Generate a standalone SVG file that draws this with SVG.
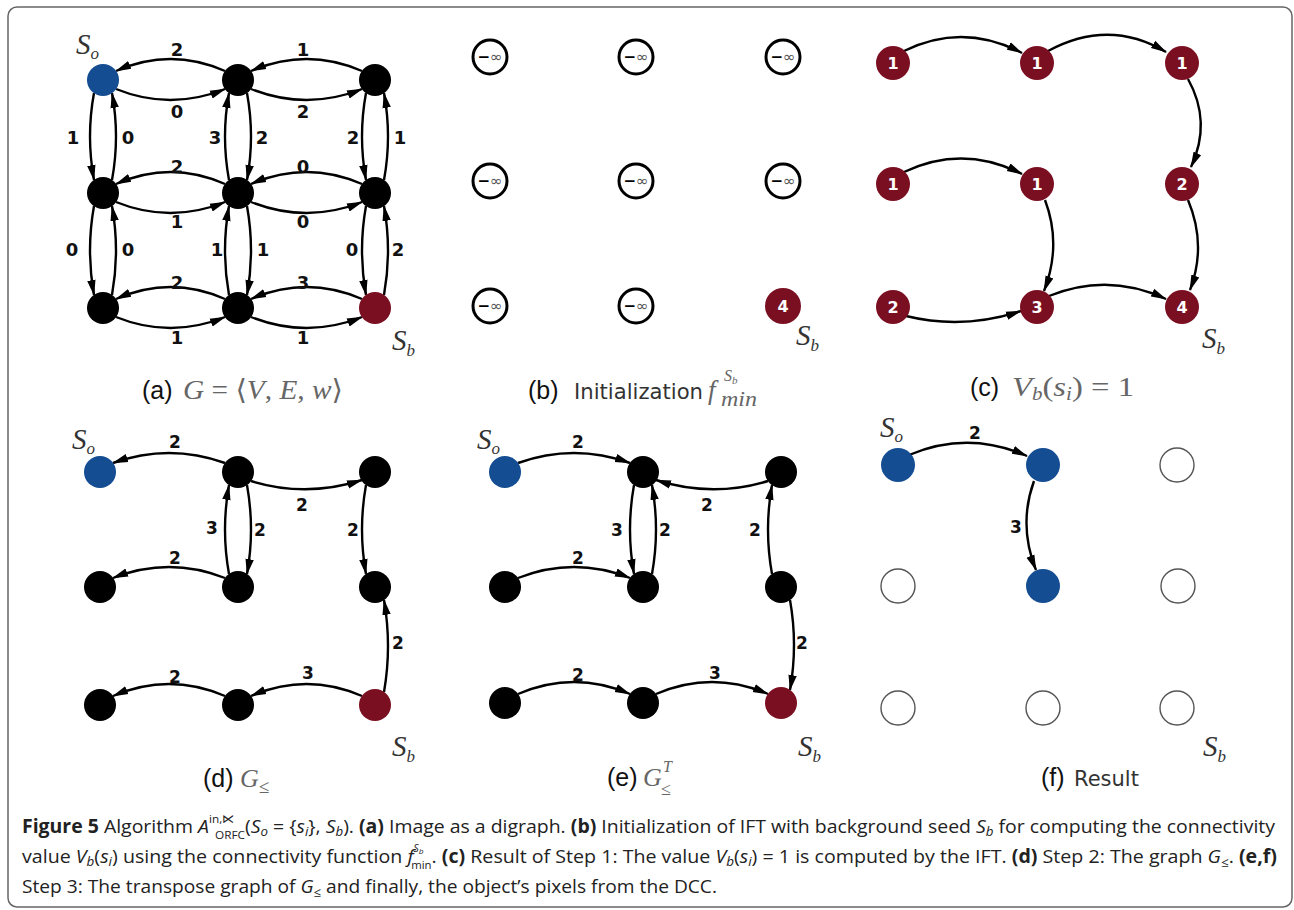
<svg xmlns="http://www.w3.org/2000/svg" width="1294" height="910" viewBox="0 0 1294 910">
<style>
.e{fill:none;stroke:#000;stroke-width:2.4;marker-end:url(#ah)}
.lb{font-family:"DejaVu Sans","Liberation Sans",sans-serif;font-weight:bold;font-size:18px;text-anchor:middle;fill:#111}
.lbs{font-family:"DejaVu Sans","Liberation Sans",sans-serif;font-weight:bold;font-size:17px;text-anchor:middle;fill:#111}
.blk{fill:#000}
.blu{fill:#144d92}
.red{fill:#7b0f22}
.inf{fill:#fff;stroke:#000;stroke-width:3}
.emp{fill:#fff;stroke:#555;stroke-width:1.4}
.num{font-family:"DejaVu Sans",sans-serif;font-weight:bold;font-size:16px;fill:#fff;text-anchor:middle}
.it{font-family:"Liberation Serif","DejaVu Serif",serif;font-style:italic;fill:#333}
.cap{font-family:"Liberation Sans",Arial,sans-serif;font-size:25px;fill:#111}
.mth{font-family:"Liberation Serif","DejaVu Serif",serif;fill:#666}
.sf{font-family:"DejaVu Sans",sans-serif;font-size:21px;fill:#333}
.fc{font-family:"Open Sans","Noto Sans",sans-serif;font-size:19px;fill:#222}
</style>
<defs>
<marker id="ah" viewBox="0 0 16 10" refX="15" refY="5" markerWidth="16" markerHeight="10" markerUnits="userSpaceOnUse" orient="auto"><path d="M0,0.8 L16,5 L0,9.2 z" fill="#000"/></marker>
</defs>
<rect x="8" y="7" width="1284" height="900" rx="9" fill="#fff" stroke="#666" stroke-width="1.5"/>

<g id="connectors">
<path class="e" d="M225,71 Q170.5,47 116,71"/>
<path class="e" d="M116,89 Q170.5,111 225,89"/>
<path class="e" d="M362,71 Q306.5,47 251,71"/>
<path class="e" d="M251,89 Q306.5,111 362,89"/>
<path class="e" d="M225,184 Q170.5,160 116,184"/>
<path class="e" d="M116,202 Q170.5,224 225,202"/>
<path class="e" d="M362,184 Q306.5,160 251,184"/>
<path class="e" d="M251,202 Q306.5,224 362,202"/>
<path class="e" d="M225,299 Q170.5,275 116,299"/>
<path class="e" d="M116,317 Q170.5,339 225,317"/>
<path class="e" d="M362,299 Q306.5,275 251,299"/>
<path class="e" d="M251,317 Q306.5,339 362,317"/>
<path class="e" d="M94,93 Q86,136.5 94,180"/>
<path class="e" d="M112,180 Q120,136.5 112,93"/>
<path class="e" d="M94,206 Q86,250.5 94,295"/>
<path class="e" d="M112,295 Q120,250.5 112,206"/>
<path class="e" d="M229,180 Q221,136.5 229,93"/>
<path class="e" d="M247,93 Q255,136.5 247,180"/>
<path class="e" d="M229,295 Q221,250.5 229,206"/>
<path class="e" d="M247,206 Q255,250.5 247,295"/>
<path class="e" d="M366,93 Q358,136.5 366,180"/>
<path class="e" d="M384,180 Q392,136.5 384,93"/>
<path class="e" d="M366,206 Q358,250.5 366,295"/>
<path class="e" d="M384,295 Q392,250.5 384,206"/>
<text class="lb" x="177" y="56">2</text>
<text class="lb" x="177" y="118">0</text>
<text class="lb" x="303" y="56">1</text>
<text class="lb" x="303" y="118">2</text>
<text class="lb" x="177" y="173">2</text>
<text class="lb" x="177" y="228">1</text>
<text class="lb" x="303" y="173">0</text>
<text class="lb" x="303" y="228">0</text>
<text class="lb" x="177" y="289">2</text>
<text class="lb" x="177" y="344">1</text>
<text class="lb" x="303" y="289">3</text>
<text class="lb" x="303" y="344">1</text>
<text class="lb" x="73" y="144">1</text>
<text class="lb" x="128" y="144">0</text>
<text class="lb" x="72" y="256">0</text>
<text class="lb" x="128" y="256">0</text>
<text class="lb" x="215" y="144">3</text>
<text class="lb" x="262" y="144">2</text>
<text class="lb" x="217" y="256">1</text>
<text class="lb" x="263" y="256">1</text>
<text class="lb" x="353" y="144">2</text>
<text class="lb" x="400" y="144">1</text>
<text class="lb" x="352" y="256">0</text>
<text class="lb" x="398" y="256">2</text>
<path class="e" d="M904,51 Q963,22 1022,53"/>
<path class="e" d="M1048,51 Q1109,18 1166,52"/>
<path class="e" d="M1188,79 Q1212,122 1191,167"/>
<path class="e" d="M1188,200 Q1207,245 1190,290"/>
<path class="e" d="M904,172 Q963,144 1022,174"/>
<path class="e" d="M1045,200 Q1062,245 1044,291"/>
<path class="e" d="M906,316 Q963,330 1021,311"/>
<path class="e" d="M1049,296 Q1108,272 1166,299"/>
<path class="e" d="M225,463 Q169,443 113,463"/>
<path class="e" d="M251,481 Q306,498 362,480"/>
<path class="e" d="M247,485 Q255,529.5 247,574"/>
<path class="e" d="M229,574 Q221,529.5 229,485"/>
<path class="e" d="M366,485 Q358,529.5 366,574"/>
<path class="e" d="M225,578 Q169,556 113,578"/>
<path class="e" d="M384,692 Q392,646 384,600"/>
<path class="e" d="M362,696 Q306.5,672 251,696"/>
<path class="e" d="M225,696 Q169,672 113,696"/>
<text class="lbs" x="175" y="448">2</text>
<text class="lbs" x="302" y="511">2</text>
<text class="lbs" x="260" y="536">2</text>
<text class="lbs" x="212" y="534">3</text>
<text class="lbs" x="353" y="536">2</text>
<text class="lbs" x="175" y="564">2</text>
<text class="lbs" x="398" y="649">2</text>
<text class="lbs" x="308" y="679">3</text>
<text class="lbs" x="175" y="683">2</text>
<path class="e" d="M518,463 Q574,443 630,463"/>
<path class="e" d="M768,481 Q712,498 656,480"/>
<path class="e" d="M652,574 Q660,529.5 652,485"/>
<path class="e" d="M634,485 Q626,529.5 634,574"/>
<path class="e" d="M772,574 Q764,529.5 772,485"/>
<path class="e" d="M518,578 Q574,556 630,578"/>
<path class="e" d="M790,600 Q798,645 790,690"/>
<path class="e" d="M656,694 Q712,670 768,694"/>
<path class="e" d="M518,694 Q574,670 630,694"/>
<text class="lbs" x="578" y="448">2</text>
<text class="lbs" x="707" y="511">2</text>
<text class="lbs" x="665" y="536">2</text>
<text class="lbs" x="617" y="536">3</text>
<text class="lbs" x="755" y="536">2</text>
<text class="lbs" x="578" y="564">2</text>
<text class="lbs" x="802" y="649">2</text>
<text class="lbs" x="715" y="679">3</text>
<text class="lbs" x="578" y="681">2</text>
<path class="e" d="M909,455 Q968,430 1027,456"/>
<path class="e" d="M1034,481 Q1018,525 1036,570"/>
<text class="lbs" x="975" y="439">2</text>
<text class="lbs" x="1016" y="533">3</text>
</g>

<g id="a00"><circle class="blu" cx="103" cy="80" r="16"/></g>
<g id="a01"><circle class="blk" cx="238" cy="80" r="16"/></g>
<g id="a02"><circle class="blk" cx="375" cy="80" r="16"/></g>
<g id="a10"><circle class="blk" cx="103" cy="193" r="16"/></g>
<g id="a11"><circle class="blk" cx="238" cy="193" r="16"/></g>
<g id="a12"><circle class="blk" cx="375" cy="193" r="16"/></g>
<g id="a20"><circle class="blk" cx="103" cy="308" r="16"/></g>
<g id="a21"><circle class="blk" cx="238" cy="308" r="16"/></g>
<g id="a22"><circle class="red" cx="375" cy="308" r="16"/></g>

<g id="b00"><circle class="inf" cx="490" cy="57" r="17"/><text x="490" y="62" text-anchor="middle" font-family="DejaVu Sans,sans-serif" font-size="15"><tspan font-weight="bold">−</tspan><tspan fill="#555">∞</tspan></text></g>
<g id="b01"><circle class="inf" cx="636" cy="57" r="17"/><text x="636" y="62" text-anchor="middle" font-family="DejaVu Sans,sans-serif" font-size="15"><tspan font-weight="bold">−</tspan><tspan fill="#555">∞</tspan></text></g>
<g id="b02"><circle class="inf" cx="783" cy="57" r="17"/><text x="783" y="62" text-anchor="middle" font-family="DejaVu Sans,sans-serif" font-size="15"><tspan font-weight="bold">−</tspan><tspan fill="#555">∞</tspan></text></g>
<g id="b10"><circle class="inf" cx="490" cy="181" r="17"/><text x="490" y="186" text-anchor="middle" font-family="DejaVu Sans,sans-serif" font-size="15"><tspan font-weight="bold">−</tspan><tspan fill="#555">∞</tspan></text></g>
<g id="b11"><circle class="inf" cx="636" cy="181" r="17"/><text x="636" y="186" text-anchor="middle" font-family="DejaVu Sans,sans-serif" font-size="15"><tspan font-weight="bold">−</tspan><tspan fill="#555">∞</tspan></text></g>
<g id="b12"><circle class="inf" cx="783" cy="181" r="17"/><text x="783" y="186" text-anchor="middle" font-family="DejaVu Sans,sans-serif" font-size="15"><tspan font-weight="bold">−</tspan><tspan fill="#555">∞</tspan></text></g>
<g id="b20"><circle class="inf" cx="490" cy="306" r="17"/><text x="490" y="311" text-anchor="middle" font-family="DejaVu Sans,sans-serif" font-size="15"><tspan font-weight="bold">−</tspan><tspan fill="#555">∞</tspan></text></g>
<g id="b21"><circle class="inf" cx="636" cy="306" r="17"/><text x="636" y="311" text-anchor="middle" font-family="DejaVu Sans,sans-serif" font-size="15"><tspan font-weight="bold">−</tspan><tspan fill="#555">∞</tspan></text></g>
<g id="b22"><circle class="red" cx="783" cy="306" r="18"/><text class="num" x="783" y="312">4</text></g>

<g id="c00"><circle class="red" cx="893" cy="63" r="17"/><text class="num" x="893" y="69">1</text></g>
<g id="c01"><circle class="red" cx="1037" cy="63" r="17"/><text class="num" x="1037" y="69">1</text></g>
<g id="c02"><circle class="red" cx="1182" cy="63" r="17"/><text class="num" x="1182" y="69">1</text></g>
<g id="c10"><circle class="red" cx="893" cy="184" r="17"/><text class="num" x="893" y="190">1</text></g>
<g id="c11"><circle class="red" cx="1037" cy="184" r="17"/><text class="num" x="1037" y="190">1</text></g>
<g id="c12"><circle class="red" cx="1182" cy="184" r="17"/><text class="num" x="1182" y="190">2</text></g>
<g id="c20"><circle class="red" cx="893" cy="307" r="17"/><text class="num" x="893" y="313">2</text></g>
<g id="c21"><circle class="red" cx="1037" cy="307" r="17"/><text class="num" x="1037" y="313">3</text></g>
<g id="c22"><circle class="red" cx="1182" cy="307" r="17"/><text class="num" x="1182" y="313">4</text></g>

<g id="d00"><circle class="blu" cx="100" cy="472" r="16"/></g>
<g id="d01"><circle class="blk" cx="238" cy="472" r="16"/></g>
<g id="d02"><circle class="blk" cx="375" cy="472" r="16"/></g>
<g id="d10"><circle class="blk" cx="100" cy="587" r="16"/></g>
<g id="d11"><circle class="blk" cx="238" cy="587" r="16"/></g>
<g id="d12"><circle class="blk" cx="375" cy="587" r="16"/></g>
<g id="d20"><circle class="blk" cx="100" cy="705" r="16"/></g>
<g id="d21"><circle class="blk" cx="238" cy="705" r="16"/></g>
<g id="d22"><circle class="red" cx="375" cy="705" r="16"/></g>

<g id="e00"><circle class="blu" cx="505" cy="472" r="16"/></g>
<g id="e01"><circle class="blk" cx="643" cy="472" r="16"/></g>
<g id="e02"><circle class="blk" cx="781" cy="472" r="16"/></g>
<g id="e10"><circle class="blk" cx="505" cy="587" r="16"/></g>
<g id="e11"><circle class="blk" cx="643" cy="587" r="16"/></g>
<g id="e12"><circle class="blk" cx="781" cy="587" r="16"/></g>
<g id="e20"><circle class="blk" cx="505" cy="703" r="16"/></g>
<g id="e21"><circle class="blk" cx="643" cy="703" r="16"/></g>
<g id="e22"><circle class="red" cx="781" cy="703" r="16"/></g>

<g id="f00"><circle class="blu" cx="898" cy="465" r="17"/></g>
<g id="f01"><circle class="blu" cx="1043" cy="465" r="17"/></g>
<g id="f02"><circle class="emp" cx="1177" cy="465" r="17"/></g>
<g id="f10"><circle class="emp" cx="898" cy="586" r="17"/></g>
<g id="f11"><circle class="blu" cx="1043" cy="586" r="17"/></g>
<g id="f12"><circle class="emp" cx="1178" cy="586" r="17"/></g>
<g id="f20"><circle class="emp" cx="898" cy="708" r="17"/></g>
<g id="f21"><circle class="emp" cx="1043" cy="708" r="17"/></g>
<g id="f22"><circle class="emp" cx="1177" cy="708" r="17"/></g>

<g id="seeds">
<text class="it" x="76" y="54" font-size="29">S<tspan font-size="17" dy="5">o</tspan></text>
<text class="it" x="392" y="350" font-size="29">S<tspan font-size="17" dy="6">b</tspan></text>
<text class="it" x="796" y="345" font-size="29">S<tspan font-size="17" dy="6">b</tspan></text>
<text class="it" x="1202" y="348" font-size="29">S<tspan font-size="17" dy="6">b</tspan></text>
<text class="it" x="72" y="449" font-size="29">S<tspan font-size="17" dy="5">o</tspan></text>
<text class="it" x="392" y="756" font-size="29">S<tspan font-size="17" dy="6">b</tspan></text>
<text class="it" x="477" y="449" font-size="29">S<tspan font-size="17" dy="5">o</tspan></text>
<text class="it" x="798" y="756" font-size="29">S<tspan font-size="17" dy="6">b</tspan></text>
<text class="it" x="880" y="437" font-size="29">S<tspan font-size="17" dy="5">o</tspan></text>
<text class="it" x="1203" y="756" font-size="29">S<tspan font-size="17" dy="6">b</tspan></text>
</g>

<g id="captions">
<text class="cap" x="142" y="399">(a)</text>
<text class="mth" x="183" y="399" font-size="28" textLength="160" lengthAdjust="spacingAndGlyphs"><tspan font-style="italic">G</tspan> = ⟨<tspan font-style="italic">V</tspan>, <tspan font-style="italic">E</tspan>, <tspan font-style="italic">w</tspan>⟩</text>

<text class="cap" x="528" y="399">(b)</text>
<text class="sf" x="574" y="399" textLength="129" lengthAdjust="spacingAndGlyphs">Initialization</text>
<text class="mth" x="708" y="399" font-size="27" font-style="italic">f</text>
<text class="mth" x="724" y="381" font-size="16" font-style="italic">S<tspan font-size="11" dy="3">b</tspan></text>
<text class="mth" x="721" y="406" font-size="21" font-style="italic" textLength="36" lengthAdjust="spacingAndGlyphs">min</text>

<text class="cap" x="970" y="396">(c)</text>
<text class="mth" x="1012" y="396" font-size="28" textLength="122" lengthAdjust="spacingAndGlyphs"><tspan font-style="italic">V</tspan><tspan font-size="18" font-style="italic" dy="4">b</tspan><tspan dy="-4">(</tspan><tspan font-style="italic">s</tspan><tspan font-size="18" font-style="italic" dy="4">i</tspan><tspan dy="-4">) = 1</tspan></text>

<text class="cap" x="203" y="787">(d)</text>
<text class="mth" x="240" y="787" font-size="26" font-style="italic">G<tspan font-size="19" font-style="normal" dy="6">≤</tspan></text>

<text class="cap" x="607" y="786">(e)</text>
<text class="mth" x="643" y="786" font-size="26" font-style="italic">G</text>
<text class="mth" x="663" y="772" font-size="16" font-style="italic">T</text>
<text class="mth" x="661" y="795" font-size="18">≤</text>

<text class="cap" x="1041" y="786">(f)</text>
<text class="sf" x="1074" y="786">Result</text>
</g>

<g id="figcaption" class="fc">
<text x="22" y="833" textLength="1253" lengthAdjust="spacingAndGlyphs"><tspan font-weight="bold">Figure 5</tspan>  Algorithm <tspan font-style="italic">A</tspan><tspan font-size="11.5" dy="-10">in,⋉</tspan><tspan font-size="11.5" dx="-19" dy="16">ORFC</tspan><tspan dy="-6">(</tspan><tspan font-style="italic">S</tspan><tspan font-style="italic" font-size="13" dy="3">o</tspan><tspan dy="-3"> = {</tspan><tspan font-style="italic">s</tspan><tspan font-style="italic" font-size="13" dy="3">i</tspan><tspan dy="-3">}, </tspan><tspan font-style="italic">S</tspan><tspan font-style="italic" font-size="13" dy="3">b</tspan><tspan dy="-3">). </tspan><tspan font-weight="bold">(a)</tspan> Image as a digraph. <tspan font-weight="bold">(b)</tspan> Initialization of IFT with background seed <tspan font-style="italic">S</tspan><tspan font-style="italic" font-size="13" dy="3">b</tspan><tspan dy="-3"> for computing the connectivity</tspan></text>
<text x="22" y="863" textLength="1255" lengthAdjust="spacingAndGlyphs">value <tspan font-style="italic">V</tspan><tspan font-style="italic" font-size="13" dy="3">b</tspan><tspan dy="-3">(</tspan><tspan font-style="italic">s</tspan><tspan font-style="italic" font-size="13" dy="3">i</tspan><tspan dy="-3">) using the connectivity function </tspan><tspan font-style="italic">f</tspan><tspan font-style="italic" font-size="10" dy="-11">S</tspan><tspan font-style="italic" font-size="8" dy="2">b</tspan><tspan font-size="11" dx="-12" dy="15">min</tspan><tspan dy="-6">. </tspan><tspan font-weight="bold">(c)</tspan> Result of Step 1: The value <tspan font-style="italic">V</tspan><tspan font-style="italic" font-size="13" dy="3">b</tspan><tspan dy="-3">(</tspan><tspan font-style="italic">s</tspan><tspan font-style="italic" font-size="13" dy="3">i</tspan><tspan dy="-3">) = 1 is computed by the IFT. </tspan><tspan font-weight="bold">(d)</tspan> Step 2: The graph <tspan font-style="italic">G</tspan><tspan font-size="13" dy="4">≤</tspan><tspan dy="-4">. </tspan><tspan font-weight="bold">(e,f)</tspan></text>
<text x="22" y="893" textLength="695" lengthAdjust="spacingAndGlyphs">Step 3: The transpose graph of <tspan font-style="italic">G</tspan><tspan font-size="13" dy="4">≤</tspan><tspan dy="-4"> and finally, the object’s pixels from the DCC.</tspan></text>
</g>
</svg>
